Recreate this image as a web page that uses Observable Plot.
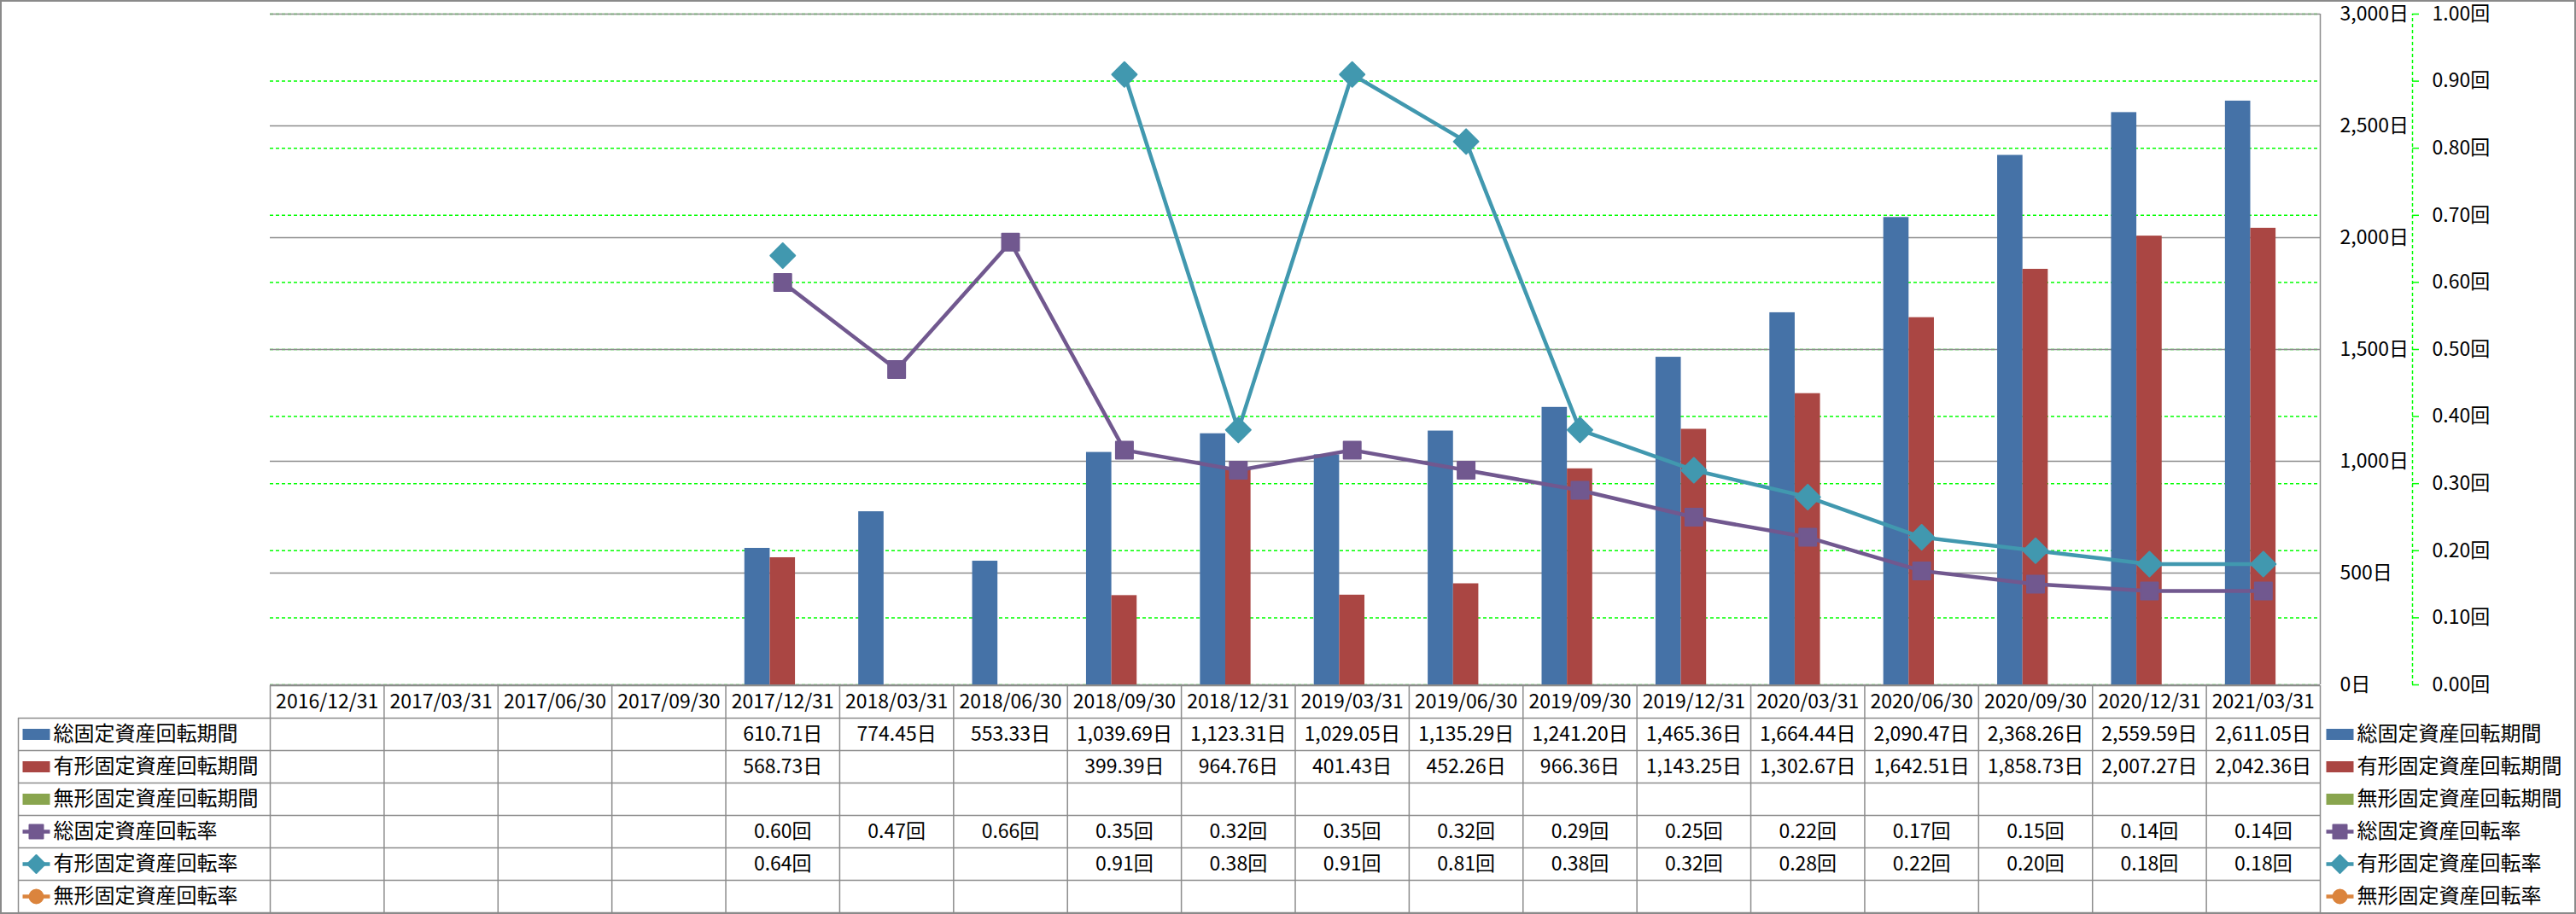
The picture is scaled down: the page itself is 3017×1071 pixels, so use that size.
<!DOCTYPE html>
<html><head><meta charset="utf-8">
<script src="https://cdn.jsdelivr.net/npm/d3@7"></script>
<script src="https://cdn.jsdelivr.net/npm/@observablehq/plot@0.6"></script>
<style>
html,body{margin:0;padding:0;background:#fff;overflow:hidden;}
#chart{position:relative;width:3017px;height:1071px;background:#fff;overflow:hidden;}
#chart svg{position:absolute;left:0;top:0;max-width:none;}
#border{position:absolute;left:0;top:0;width:3017px;height:1071px;box-sizing:border-box;border:2px solid #8a8a8a;pointer-events:none;}
</style></head><body>
<div id="chart"></div>
<script>
// ---- data ----
const dates = ["2016/12/31","2017/03/31","2017/06/30","2017/09/30","2017/12/31","2018/03/31","2018/06/30","2018/09/30","2018/12/31","2019/03/31","2019/06/30","2019/09/30","2019/12/31","2020/03/31","2020/06/30","2020/09/30","2020/12/31","2021/03/31"];
const seriesNames = ["総固定資産回転期間","有形固定資産回転期間","無形固定資産回転期間","総固定資産回転率","有形固定資産回転率","無形固定資産回転率"];
const totalPeriod = [null,null,null,null,610.71,774.45,553.33,1039.69,1123.31,1029.05,1135.29,1241.20,1465.36,1664.44,2090.47,2368.26,2559.59,2611.05];
const tangiblePeriod = [null,null,null,null,568.73,null,null,399.39,964.76,401.43,452.26,966.36,1143.25,1302.67,1642.51,1858.73,2007.27,2042.36];
const intangiblePeriod = [null,null,null,null,null,null,null,null,null,null,null,null,null,null,null,null,null,null];
const totalRate = [null,null,null,null,0.60,0.47,0.66,0.35,0.32,0.35,0.32,0.29,0.25,0.22,0.17,0.15,0.14,0.14];
const tangibleRate = [null,null,null,null,0.64,null,null,0.91,0.38,0.91,0.81,0.38,0.32,0.28,0.22,0.20,0.18,0.18];
const intangibleRate = [null,null,null,null,null,null,null,null,null,null,null,null,null,null,null,null,null,null];
const dayTicks = [0,500,1000,1500,2000,2500,3000];
const rateTicks = [0,0.1,0.2,0.3,0.4,0.5,0.6,0.7,0.8,0.9,1.0];
const colors = ["#4572A7","#AA4643","#89A54E","#71588F","#4198AF","#DB843D"];

// ---- layout ----
const W = 3017, H = 1071;
const L = 316, R = 2717, T = 16, B = 802;
const legendL = 21, axis2 = 2825, tickLen = 8;
const tableTop = 803, rowH = 38, nRows = 7;
const nCat = dates.length;
const colW = (R - L) / nCat;
const legendColX = -(L - legendL) / colW;
const FONT = "'Noto Sans CJK JP', 'Noto Sans', sans-serif";
const FS = 23;
const GRID = "#8c8c8c";
const LIME = "#00ff00";
const barGap = 1.5; // Excel gap width 150%
const nBars = 3;

const fmtDayTick = d => d3.format(",")(d) + "日";
const fmtDay = d => d3.format(",.2f")(d) + "日";
const fmtRate = d => d.toFixed(2) + "回";

const xScale = {domain: [0, nCat], range: [L, R], axis: null};
const base = {width: W, height: H, style: {background: "transparent", overflow: "visible", maxWidth: "none"}};

// symbols
const rectSym = (w, h) => ({draw(ctx) { ctx.rect(-w / 2, -h / 2, w, h); }});
const hlineSym = (w) => ({draw(ctx) { ctx.moveTo(-w / 2, 0); ctx.lineTo(w / 2, 0); }});
const squareSym = (s) => ({draw(ctx) { ctx.rect(-s / 2, -s / 2, s, s); }});
const diamondSym = (w) => ({draw(ctx) { const r = w / 2; ctx.moveTo(0, -r); ctx.lineTo(r, 0); ctx.lineTo(0, r); ctx.lineTo(-r, 0); ctx.closePath(); }});
const circleSym = (d) => ({draw(ctx) { ctx.moveTo(d / 2, 0); ctx.arc(0, 0, d / 2, 0, 2 * Math.PI); }});

const chart = document.getElementById("chart");

// 1. secondary gridlines (green dashed)
chart.append(Plot.plot({...base,
  x: xScale, y: {domain: [0, 1], range: [B, T], axis: null},
  marks: [
    Plot.ruleY(rateTicks, {y: d => d, x1: 0, x2: nCat, stroke: LIME, strokeWidth: 1.5, strokeDasharray: "4,3"})
  ]}));

// 2. secondary axis
chart.append(Plot.plot({...base,
  x: {domain: [0, 1], range: [axis2, axis2 + tickLen], axis: null},
  y: {domain: [0, 1], range: [B, T], axis: null},
  marks: [
    Plot.ruleX([0], {x: d => d, y1: 0, y2: 1, stroke: LIME, strokeWidth: 1.5, strokeDasharray: "4,3"}),
    Plot.ruleY(rateTicks, {y: d => d, x1: 0, x2: 1, stroke: LIME, strokeWidth: 1.5}),
    Plot.text(rateTicks, {y: d => d, x: 1, dx: 15, text: fmtRate, textAnchor: "start", fontSize: FS, fontFamily: FONT, fill: "#000"})
  ]}));

// 3. primary: gridlines, bars, axis labels
const periodSeries = [totalPeriod, tangiblePeriod, intangiblePeriod];
const barData = [];
periodSeries.forEach((arr, s) => arr.forEach((v, i) => { if (v != null) barData.push({i, s, v, name: seriesNames[s]}); }));
const slot = nBars + barGap;
chart.append(Plot.plot({...base,
  x: xScale, y: {domain: [0, 3000], range: [B, T], axis: null},
  color: {domain: seriesNames, range: colors},
  marks: [
    Plot.ruleY(dayTicks, {y: d => d, x1: 0, x2: nCat, stroke: GRID, strokeWidth: 1.5}),
    Plot.ruleX([nCat], {x: d => d, y1: 0, y2: 3000, stroke: GRID, strokeWidth: 1.5}),
    Plot.rect(barData, {
      x1: d => d.i + (barGap / 2 + d.s) / slot,
      x2: d => d.i + (barGap / 2 + d.s + 1) / slot,
      y1: 0, y2: d => d.v, fill: d => d.name
    }),
    Plot.text(dayTicks, {y: d => d, x: nCat, dx: 23, text: fmtDayTick, textAnchor: "start", fontSize: FS, fontFamily: FONT, fill: "#000"})
  ]}));

// 4. rate lines
const toRows = arr => arr.map((v, i) => ({i, v}));
const totalRateRows = toRows(totalRate);
const tangibleRateRows = toRows(tangibleRate);
const intangibleRateRows = toRows(intangibleRate);
chart.append(Plot.plot({...base,
  x: xScale, y: {domain: [0, 1], range: [B, T], axis: null},
  marks: [
    Plot.line(totalRateRows, {x: d => d.i + 0.5, y: d => d.v, stroke: colors[3], strokeWidth: 4.5}),
    Plot.dot(totalRateRows.filter(d => d.v != null), {x: d => d.i + 0.5, y: d => d.v, symbol: squareSym(20), fill: colors[3], stroke: colors[3], strokeWidth: 2, strokeLinejoin: "round"}),
    Plot.line(tangibleRateRows, {x: d => d.i + 0.5, y: d => d.v, stroke: colors[4], strokeWidth: 4.5}),
    Plot.dot(tangibleRateRows.filter(d => d.v != null), {x: d => d.i + 0.5, y: d => d.v, symbol: diamondSym(29), fill: colors[4], stroke: colors[4], strokeWidth: 2, strokeLinejoin: "round"}),
    Plot.line(intangibleRateRows, {x: d => d.i + 0.5, y: d => d.v, stroke: colors[5], strokeWidth: 4.5}),
    Plot.dot(intangibleRateRows.filter(d => d.v != null), {x: d => d.i + 0.5, y: d => d.v, symbol: circleSym(20), fill: colors[5]})
  ]}));

// 5. data table + legends
const allSeries = [totalPeriod, tangiblePeriod, intangiblePeriod, totalRate, tangibleRate, intangibleRate];
const cells = [];
allSeries.forEach((arr, s) => arr.forEach((v, i) => {
  if (v != null) cells.push({i, row: s + 1, label: s < 3 ? fmtDay(v) : fmtRate(v)});
}));
const legendMarks = (xPos, swatchDx, textDx) => {
  const m = [];
  seriesNames.forEach((name, k) => {
    const y = k + 1.5;
    const c = colors[k];
    if (k < 3) {
      m.push(Plot.dot([name], {x: xPos, y, dx: swatchDx, symbol: rectSym(32, 13), fill: c, stroke: "none"}));
    } else {
      m.push(Plot.dot([name], {x: xPos, y, dx: swatchDx, symbol: hlineSym(32), fill: "none", stroke: c, strokeWidth: 4.5}));
      const sym = k === 3 ? squareSym(16) : k === 4 ? diamondSym(21) : circleSym(16);
      m.push(Plot.dot([name], {x: xPos, y, dx: swatchDx, symbol: sym, fill: c, stroke: c, strokeWidth: 2, strokeLinejoin: "round"}));
    }
    m.push(Plot.text([name], {x: xPos, y, dx: textDx, text: d => d, textAnchor: "start", fontSize: 24, fontFamily: FONT, fill: "#000"}));
  });
  return m;
};
chart.append(Plot.plot({...base,
  x: xScale, y: {domain: [0, nRows], range: [tableTop, tableTop + nRows * rowH], axis: null},
  marks: [
    Plot.ruleY([0], {y: d => d, x1: 0, x2: nCat, stroke: GRID, strokeWidth: 1.5}),
    Plot.ruleY(d3.range(1, nRows + 1), {y: d => d, x1: legendColX, x2: nCat, stroke: GRID, strokeWidth: 1.5}),
    Plot.ruleX(d3.range(0, nCat + 1), {x: d => d, y1: 0, y2: nRows, stroke: GRID, strokeWidth: 1.5}),
    Plot.ruleX([legendColX], {x: d => d, y1: 1, y2: nRows, stroke: GRID, strokeWidth: 1.5}),
    Plot.text(dates, {x: (d, i) => i + 0.5, y: 0.5, text: d => d, fontSize: FS, fontFamily: FONT, fill: "#000"}),
    Plot.text(cells, {x: d => d.i + 0.5, y: d => d.row + 0.5, text: d => d.label, fontSize: FS, fontFamily: FONT, fill: "#000"}),
    ...legendMarks(legendColX, 21, 41),
    ...legendMarks(nCat, 23, 43)
  ]}));

const border = document.createElement("div");
border.id = "border";
chart.append(border);
</script>
</body></html>
